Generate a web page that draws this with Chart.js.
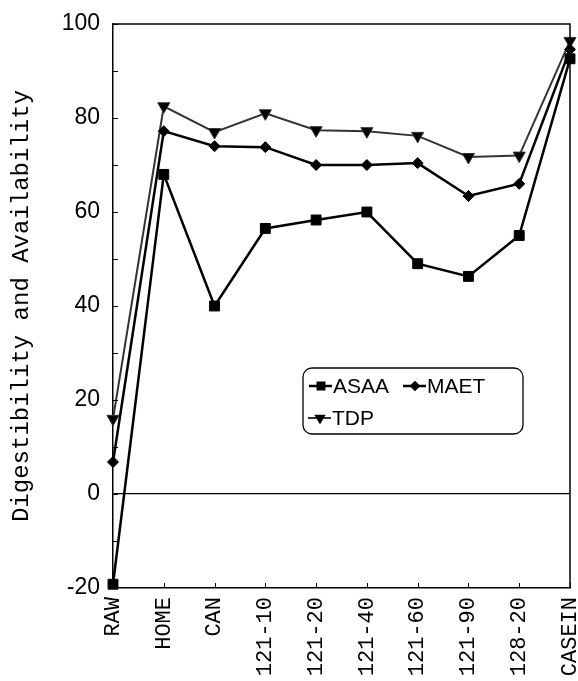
<!DOCTYPE html>
<html>
<head>
<meta charset="utf-8">
<script src="https://cdn.jsdelivr.net/npm/chart.js@4"></script>
<style>
  html,body{margin:0;padding:0;background:#fff;}
  #wrap{width:578px;height:681px;position:relative;}
</style>
</head>
<body>
<div id="wrap"><canvas id="chart" width="578" height="681"></canvas></div>
<script>
// data
const categories=['RAW','HOME','CAN','121-10','121-20','121-40','121-60','121-90','128-20','CASEIN'];
const asaa=[-19.2,68,40,56.5,58.3,60,49,46.3,55,92.6];
const maet=[6.8,77.2,74,73.8,70,70,70.4,63.4,66,94.6];
const tdp=[16,82.5,77,81,77.4,77.2,76.2,71.7,72,96.4];
const yTickLabels=[-20,0,20,40,60,80,100];

const black='#000';

// box, inward ticks, and the legend box
const framePlugin={
  id:'frame',
  afterDraw(chart){
    const {ctx,chartArea:a,scales}=chart;
    ctx.save();
    ctx.strokeStyle=black;
    ctx.lineWidth=1.5;
    ctx.beginPath();
    ctx.moveTo(a.left,a.top);ctx.lineTo(a.right,a.top);ctx.lineTo(a.right,a.bottom);
    ctx.stroke();
    ctx.lineWidth=1;
    ctx.beginPath();
    scales.y.ticks.forEach((t,i)=>{
      const y=Math.round(scales.y.getPixelForTick(i))+0.5;
      ctx.moveTo(a.left,y);ctx.lineTo(a.left+5,y);
    });
    scales.x.ticks.forEach((t,i)=>{
      const x=Math.round(scales.x.getPixelForTick(i))+0.5;
      ctx.moveTo(x,a.bottom);ctx.lineTo(x,a.bottom-5);
    });
    ctx.stroke();

    // legend
    const bx=303,by=368,bw=220,bh=66,r=9;
    ctx.lineWidth=1.3;
    ctx.beginPath();
    ctx.roundRect(bx,by,bw,bh,r);
    ctx.fillStyle='#fff';ctx.fill();
    ctx.stroke();
    const items=[[0,309,386],[1,403,386],[2,308,418]];
    ctx.font='21px "Liberation Sans", Arial, sans-serif';
    ctx.textBaseline='middle';
    items.forEach(([di,x,y])=>{
      const ds=chart.data.datasets[di];
      ctx.strokeStyle=ds.borderColor;
      ctx.lineWidth=ds.borderWidth;
      ctx.beginPath();ctx.moveTo(x,y);ctx.lineTo(x+23,y);ctx.stroke();
      ctx.fillStyle=black;ctx.strokeStyle=black;
      Chart.helpers.drawPoint(ctx,{pointStyle:ds.pointStyle,radius:ds.pointRadius*0.65,rotation:ds.rotation||0,borderWidth:1},x+12,y);
      ctx.fillStyle=black;
      ctx.fillText(ds.label,x+24,y+1);
    });
    ctx.restore();
  }
};

new Chart(document.getElementById('chart'),{
  type:'line',
  data:{
    labels:categories,
    datasets:[
      {label:'ASAA',data:asaa,borderColor:black,backgroundColor:black,borderWidth:2.5,pointStyle:'rect',pointRadius:7,pointBorderWidth:1},
      {label:'MAET',data:maet,borderColor:black,backgroundColor:black,borderWidth:2.5,pointStyle:'rectRot',pointRadius:5.5,pointBorderWidth:1},
      {label:'TDP',data:tdp,borderColor:'#333',backgroundColor:black,borderWidth:2,pointStyle:'triangle',rotation:180,pointRadius:7,pointBorderWidth:1}
    ]
  },
  options:{
    responsive:false,
    animation:false,
    clip:false,
    layout:{padding:{top:24,right:8,left:0,bottom:0}},
    plugins:{legend:{display:false},tooltip:{enabled:false}},
    elements:{line:{tension:0}},
    scales:{
      x:{
        offset:false,
        grid:{display:false,drawTicks:false},
        border:{display:true,color:black,width:1.5},
        ticks:{color:black,autoSkip:false,minRotation:90,maxRotation:90,padding:9,
          font:{family:'"Liberation Mono", "Courier New", monospace',size:22}},
        afterFit(s){s.height=93;s.paddingLeft=0;s.paddingRight=0;}
      },
      y:{
        min:-20,max:100,
        grid:{drawTicks:false,color:c=>c.tick&&c.tick.value===0?black:'rgba(0,0,0,0)',lineWidth:1.3},
        border:{display:true,color:black,width:1.5},
        ticks:{stepSize:5,color:black,padding:13,
          font:{family:'"Liberation Sans", Arial, sans-serif',size:23},
          callback:v=>yTickLabels.includes(v)?String(v):''},
        title:{display:true,text:'Digestibility and Availability',color:black,padding:{top:7,bottom:0},
          font:{family:'"Liberation Mono", "Courier New", monospace',size:24,weight:'normal'}},
        afterFit(s){s.width=113;s.paddingTop=0;s.paddingBottom=0;}
      }
    }
  },
  plugins:[framePlugin]
});
</script>
</body>
</html>
